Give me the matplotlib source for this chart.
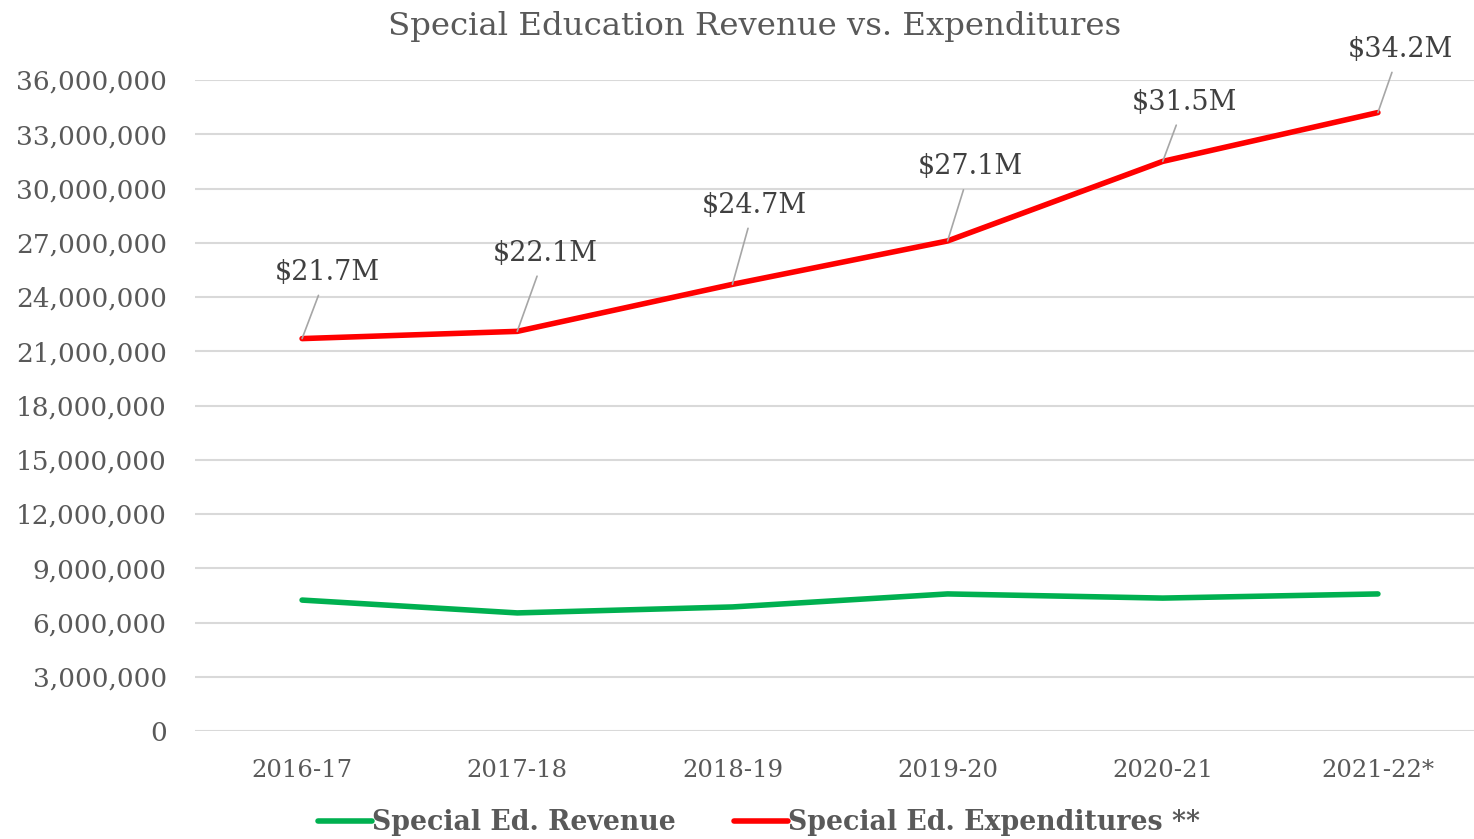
import matplotlib
matplotlib.use("Agg")
import matplotlib.pyplot as plt
from matplotlib.ticker import FuncFormatter, MultipleLocator

years = ["2016-17", "2017-18", "2018-19", "2019-20", "2020-21", "2021-22*"]
revenue = [7240000, 6530000, 6860000, 7580000, 7350000, 7580000]
expenditures = [21700000, 22100000, 24700000, 27100000, 31500000, 34200000]
exp_labels = ["$21.7M", "$22.1M", "$24.7M", "$27.1M", "$31.5M", "$34.2M"]

# label offsets in pixels (layout)
label_dx = [25, 28, 22, 23, 22, 22]
label_dy = [66, 78, 79, 74, 59, 63]

plt.rcParams['font.family'] = ['DejaVu Serif']
TXT = "#595959"
fig = plt.figure(figsize=(14.74, 8.39), dpi=100)
L, R = 194.5, 1485.5
B, T = 731, 80
ax = fig.add_axes([L / 1474, (839 - B) / 839, (R - L) / 1474, (B - T) / 839])
x = list(range(len(years)))
ax.set_xlim(-0.5, len(years) - 0.5)
ax.set_ylim(0, 36000000)
ax.yaxis.set_major_locator(MultipleLocator(3000000))
ax.yaxis.set_major_formatter(FuncFormatter(lambda v, p: f"{int(v):,}"))
ax.grid(axis='y', color="#D9D9D9", linewidth=1.5)
ax.set_axisbelow(True)
for s in ax.spines.values():
    s.set_visible(False)
ax.tick_params(axis='both', length=0, labelcolor=TXT)
ax.tick_params(axis='y', pad=20, labelsize=19)
ax.tick_params(axis='x', pad=20, labelsize=17.5)
ax.set_xticks(x)
ax.set_xticklabels(years)

ax.plot(x, revenue, color="#00B050", linewidth=4, solid_capstyle='round',
        solid_joinstyle='round', label="Special Ed. Revenue")
ax.plot(x, expenditures, color="#FF0000", linewidth=4, solid_capstyle='round',
        solid_joinstyle='round', label="Special Ed. Expenditures **")

for xi, yi, lab, dx, dy in zip(x, expenditures, exp_labels, label_dx, label_dy):
    ax.annotate(lab, xy=(xi, yi), xytext=(dx * 0.72, dy * 0.72), textcoords='offset points',
                ha='center', va='center', fontsize=19.5, color="#404040",
                arrowprops=dict(arrowstyle='-', color="#A6A6A6", lw=1.2, shrinkA=5, shrinkB=0),
                annotation_clip=False)

fig.text(755 / 1474, 1 - 26 / 839, "Special Education Revenue vs. Expenditures",
         ha='center', va='center', fontsize=23.3, color=TXT)

leg = fig.legend(loc='center', bbox_to_anchor=(759 / 1474, 1 - 823 / 839), ncol=2,
                 frameon=False, handlelength=2.0, handletextpad=0.0, columnspacing=2.2,
                 prop={'size': 19.3, 'weight': 'bold'})
for t in leg.get_texts():
    t.set_color(TXT)

fig.savefig("out.png", dpi=100)
